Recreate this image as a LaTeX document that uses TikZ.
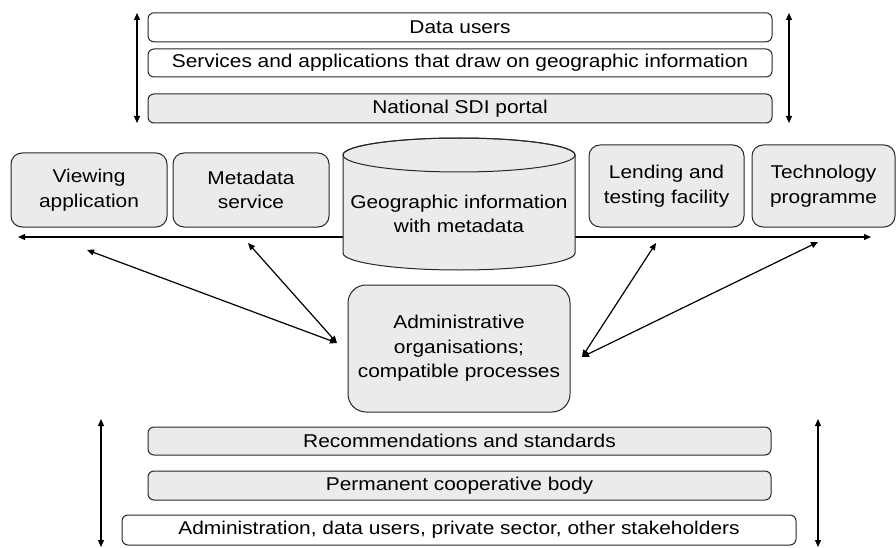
\documentclass[tikz,border=0pt]{standalone}
\usepackage{fontspec}
\setmainfont{Liberation Sans}[FakeStretch=1.13]
\usetikzlibrary{arrows.meta}
\definecolor{boxgrey}{gray}{0.92}

\tikzset{
  layer/.style={draw=black!85, line width=1pt, rounded corners=6pt, inner sep=0pt, minimum height=29pt},
  greylayer/.style={layer, fill=boxgrey},
  block/.style={draw=black!85, line width=1pt, fill=boxgrey, rounded corners=11pt, inner sep=0pt, align=center},
  link/.style={<->, line width=1.2pt},
}

\begin{document}
\begin{tikzpicture}[x=1pt, y=-1pt, font=\fontsize{18.5}{24.5}\selectfont, line join=round, >={Triangle[length=7pt,width=6pt]}]
\useasboundingbox (0,0) rectangle (896,548);
% layers at the top
\node[layer, minimum width=624pt] (users) at (460,27.3) {Data users};
\node[layer, minimum width=624pt, minimum height=28pt] (services) at (460,63) {Services and applications that draw on geographic information};
\node[greylayer, minimum width=624pt] (portal) at (460,108.5) {National SDI portal};
\foreach \x in {137,789} {
  \coordinate (up\x) at (\x,13);
  \coordinate (down\x) at (\x,123);
  \draw[link] (up\x) -- (down\x);
}
% middle row
\coordinate (westtip) at (18,237);
\coordinate (easttip) at (871,237);
\draw[link] (westtip) -- (easttip);
\node[block, minimum width=156pt, minimum height=74pt] (viewing) at (89,190) {Viewing\\application};
\node[block, minimum width=156pt, minimum height=74pt] (metasvc) at (251,190) {Metadata\\service};
\node[block, minimum width=155pt, minimum height=82pt] (lending) at (666.5,186) {Lending and\\testing facility};
\node[block, minimum width=143pt, minimum height=82pt] (techprog) at (823.5,186) {Technology\\programme};
\filldraw[draw=black!85, line width=1pt, fill=boxgrey] (343,155) -- (343,253)
  arc[start angle=180, end angle=0, x radius=116, y radius=17] -- (575,155)
  arc[start angle=0, end angle=-180, x radius=116, y radius=17] -- cycle;
\draw[black!85, line width=1pt] (459,155) ellipse [x radius=116, y radius=17];
\node[align=center] (geodata) at (459,214) {Geographic information\\with metadata};
% administration
\node[block, rounded corners=18pt, minimum width=222pt, minimum height=127pt] (admin) at (459,348.5) {Administrative\\organisations;\\compatible processes};
\coordinate (viewtip) at (87,250);
\coordinate (metatip) at (248,243);
\coordinate (lendtip) at (656,243);
\coordinate (techtip) at (818,242);
\coordinate (adminwest) at (337,343);
\coordinate (admineast) at (582,357);
\draw[link] (viewtip) -- (adminwest);
\draw[link] (metatip) -- (adminwest);
\draw[link] (lendtip) -- (admineast);
\draw[link] (techtip) -- (admineast);
% layers at the bottom
\node[greylayer, minimum width=623pt, minimum height=28pt] (standards) at (459.5,441) {Recommendations and standards};
\node[greylayer, minimum width=623pt] (cooperation) at (459.5,485.5) {Permanent cooperative body};
\node[layer, minimum width=674pt, minimum height=30pt] (stakeholders) at (459,530) {Administration, data users, private sector, other stakeholders};
\foreach \x in {101,818} {
  \coordinate (up\x) at (\x,419);
  \coordinate (down\x) at (\x,547);
  \draw[link] (up\x) -- (down\x);
}
\end{tikzpicture}
\end{document}
